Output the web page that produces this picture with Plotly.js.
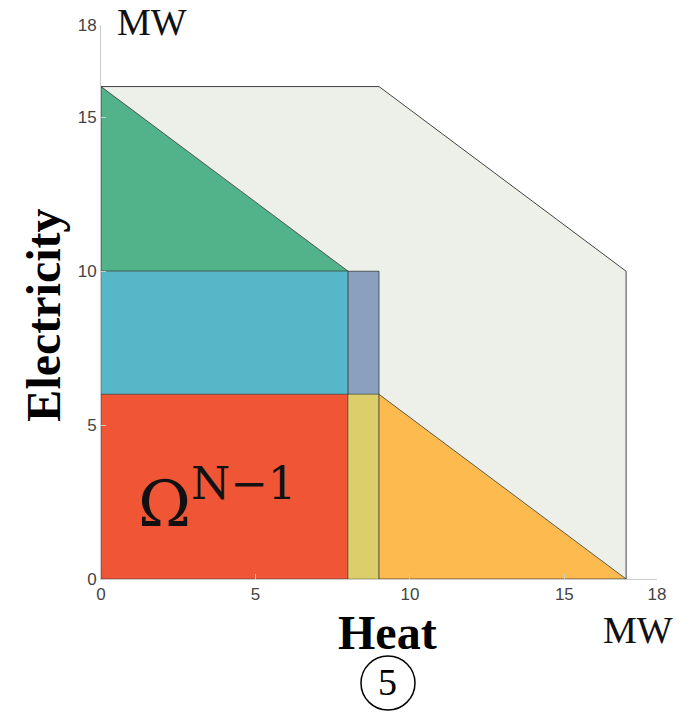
<!DOCTYPE html>
<html>
<head>
<meta charset="utf-8">
<script src="https://cdn.plot.ly/plotly-3.0.1.min.js"></script>
<style>html,body{margin:0;padding:0;background:#fff;}#chart{width:689px;height:716px;}</style>
</head>
<body>
<div id="chart"></div>
<script>
// Region vertices (Heat MW, Electricity MW)
const outerHeat = [0, 9, 17, 17, 0, 0];
const outerElec = [16, 16, 10, 0, 0, 16];
const greenHeat = [0, 8, 0, 0];
const greenElec = [16, 10, 10, 16];
const blueHeat = [0, 8, 8, 0, 0];
const blueElec = [6, 6, 10, 10, 6];
const purpleHeat = [8, 9, 9, 8, 8];
const purpleElec = [6, 6, 10, 10, 6];
const redHeat = [0, 8, 8, 0, 0];
const redElec = [0, 0, 6, 6, 0];
const yellowHeat = [8, 9, 9, 8, 8];
const yellowElec = [0, 0, 6, 6, 0];
const orangeHeat = [9, 17, 9, 9];
const orangeElec = [6, 0, 0, 6];
const tickVals = [0, 5, 10, 15, 18];
const tickText = ['0', '5', '10', '15', '18'];

function poly(x, y, fill, line) {
  return {x: x, y: y, type: 'scatter', mode: 'lines', fill: 'toself',
    fillcolor: fill, line: {color: line, width: 1}, hoverinfo: 'skip', showlegend: false};
}

const traces = [
  poly(outerHeat, outerElec, '#EDEFE9', '#444'),
  poly(greenHeat, greenElec, '#52B28A', 'rgba(40,40,40,0.7)'),
  poly(blueHeat, blueElec, '#56B7C8', 'rgba(40,40,40,0.35)'),
  poly(purpleHeat, purpleElec, '#8BA0BE', 'rgba(40,40,40,0.7)'),
  poly(redHeat, redElec, '#F05536', 'rgba(40,40,40,0.5)'),
  poly(yellowHeat, yellowElec, '#DCCE6A', 'rgba(40,40,40,0.35)'),
  poly(orangeHeat, orangeElec, '#FDBB4F', 'rgba(40,40,40,0.7)')
];

const serif = 'Liberation Serif, Times New Roman, serif';
function axis() {
  return {range: [0, 18], tickmode: 'array', tickvals: tickVals, ticktext: tickText, showgrid: false, zeroline: false,
    showline: true, linecolor: '#cccccc', linewidth: 1, ticks: 'inside', ticklen: 5, tickcolor: '#cccccc',
    tickfont: {family: 'Liberation Sans', size: 17, color: '#444444'}, fixedrange: true};
}
const layout = {
  width: 689, height: 716,
  margin: {l: 101, r: 32, t: 25, b: 137},
  paper_bgcolor: '#fff', plot_bgcolor: '#fff',
  showlegend: false,
  font: {family: 'Liberation Sans', size: 17},
  xaxis: axis(),
  yaxis: axis(),
  annotations: [
    {text: 'MW', xref: 'paper', yref: 'paper', x: 0.0917, y: 1.005, xanchor: 'center', yanchor: 'middle',
      showarrow: false, font: {family: serif, size: 38, color: '#111'}},
    {text: 'MW', xref: 'paper', yref: 'paper', x: 0.966, y: -0.092, xanchor: 'center', yanchor: 'middle',
      showarrow: false, font: {family: serif, size: 38, color: '#111'}},
    {text: '<b>Heat</b>', xref: 'paper', yref: 'paper', x: 0.516, y: -0.096, xanchor: 'center', yanchor: 'middle',
      showarrow: false, font: {family: serif, size: 48, color: '#000'}},
    {text: '<b>Electricity</b>', xref: 'paper', yref: 'paper', x: -0.105, y: 0.4765, xanchor: 'center', yanchor: 'middle',
      textangle: -90, showarrow: false, font: {family: serif, size: 48, color: '#000'}},
    {text: '5', xref: 'paper', yref: 'paper', x: 0.516, y: -0.186, xanchor: 'center', yanchor: 'middle',
      showarrow: false, font: {family: serif, size: 38, color: '#000'}},
    {text: 'Ω<sup>N−1</sup>', x: 3.75, y: 2.6, xanchor: 'center', yanchor: 'middle',
      showarrow: false, font: {family: 'DejaVu Serif, serif', size: 64, color: '#111'}}
  ],
  shapes: [
    {type: 'circle', xref: 'paper', yref: 'paper', x0: 0.4676, x1: 0.5647, y0: -0.2365, y1: -0.139,
      line: {color: '#000', width: 1.5}}
  ]
};

Plotly.newPlot('chart', traces, layout, {displayModeBar: false, staticPlot: true});
</script>
</body>
</html>
